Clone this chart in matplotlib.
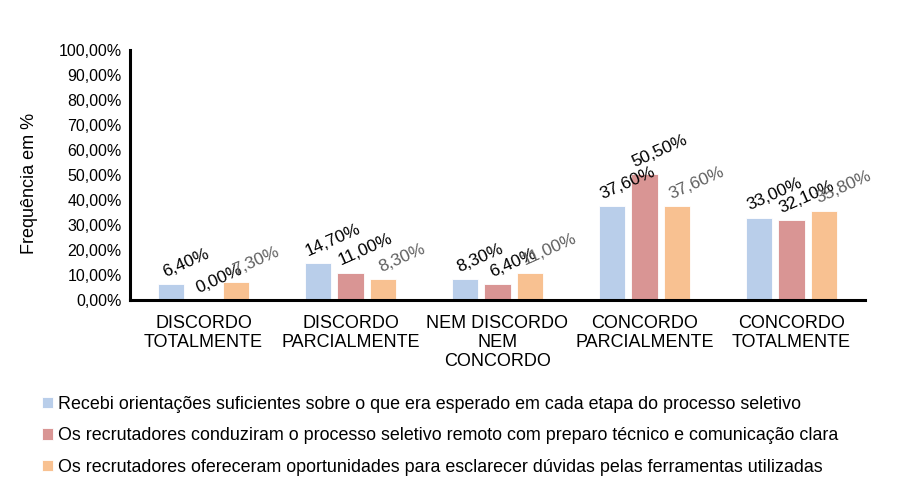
import matplotlib.pyplot as plt
import numpy as np

plt.rcParams['font.family'] = ['Liberation Sans', 'DejaVu Sans']

categorias = ["DISCORDO\nTOTALMENTE", "DISCORDO\nPARCIALMENTE", "NEM DISCORDO\nNEM\nCONCORDO",
              "CONCORDO\nPARCIALMENTE", "CONCORDO\nTOTALMENTE"]

orientacoes = [6.4, 14.7, 8.3, 37.6, 33.0]
conducao = [0.0, 11.0, 6.4, 50.5, 32.1]
oportunidades = [7.3, 8.3, 11.0, 37.6, 35.8]

series = [
    ("Recebi orientações suficientes sobre o que era esperado em cada etapa do processo seletivo",
     orientacoes, "#B9CEEA", "black", 11),
    ("Os recrutadores conduziram o processo seletivo remoto com preparo técnico e comunicação clara",
     conducao, "#D99594", "black", 11),
    ("Os recrutadores ofereceram oportunidades para esclarecer dúvidas pelas ferramentas utilizadas",
     oportunidades, "#F8C191", "#5F5F5F", 14),
]

fig = plt.figure(figsize=(9.12, 4.84), dpi=100)
ax = fig.add_axes([130 / 912, 1 - 300 / 484, 735 / 912, 250 / 484])

x = np.arange(len(categorias))
largura = 0.177
passo = 0.221

for i, (nome, vals, cor, cor_txt, dx) in enumerate(series):
    pos = x + (i - 1) * passo
    barras = ax.bar(pos, vals, largura, color=cor, edgecolor='white', linewidth=0.6, label=nome)
    for b, v in zip(barras, vals):
        ax.annotate(f"{v:.2f}%".replace('.', ','),
                    (b.get_x() + b.get_width() / 2, v),
                    xytext=(dx, 3), textcoords='offset points',
                    ha='center', va='bottom', rotation=24,
                    fontsize=12.5, color=cor_txt)

ax.set_xlim(-0.5, len(categorias) - 0.5)
ax.set_ylim(0, 100)
ax.set_yticks(np.arange(0, 101, 10))
ax.set_yticklabels([f"{t},00%" for t in range(0, 101, 10)], fontsize=11.5)
ax.set_xticks(x)
ax.set_xticklabels(categorias, fontsize=13, linespacing=1.15)
ax.tick_params(axis='both', length=0)
ax.tick_params(axis='x', pad=11)
ax.tick_params(axis='y', pad=6)

for s in ['top', 'right']:
    ax.spines[s].set_visible(False)
for s in ['left', 'bottom']:
    ax.spines[s].set_linewidth(2.2)
    ax.spines[s].set_color('black')

fig.text(30 / 912, 1 - 183 / 484, "Frequência em %", rotation=90, ha='center', va='center', fontsize=13)

fig.legend(loc='upper left', bbox_to_anchor=(42 / 912, 1 - 396 / 484), frameon=False,
           fontsize=12.9, handlelength=0.6, handleheight=0.6, handletextpad=0.3,
           labelspacing=0.8, borderpad=0, borderaxespad=0)

fig.savefig("out.png", dpi=100)
